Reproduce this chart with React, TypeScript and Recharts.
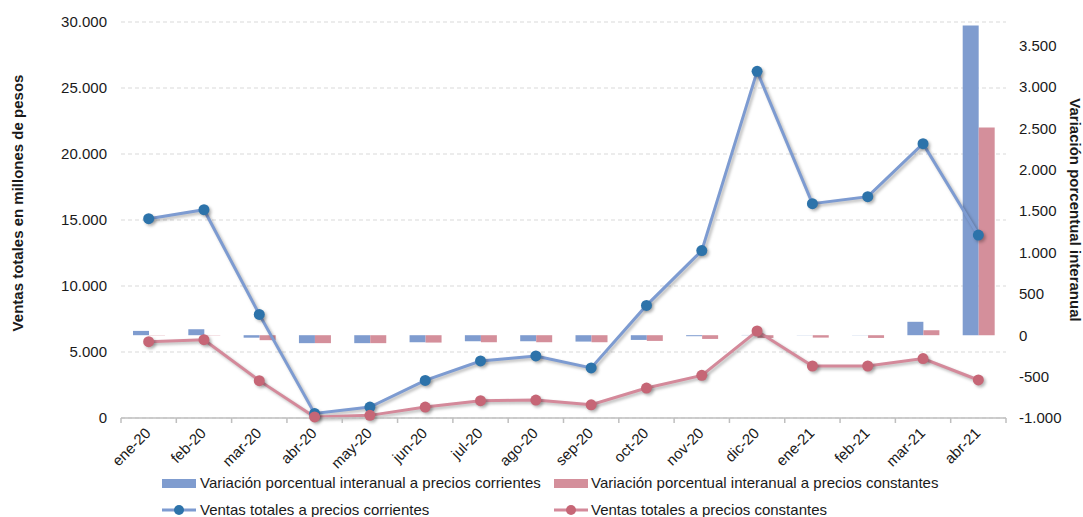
import {
  ComposedChart,
  Bar,
  Line,
  XAxis,
  YAxis,
  CartesianGrid,
  Legend,
} from 'recharts';

const categories = [
  'ene-20', 'feb-20', 'mar-20', 'abr-20', 'may-20', 'jun-20', 'jul-20', 'ago-20',
  'sep-20', 'oct-20', 'nov-20', 'dic-20', 'ene-21', 'feb-21', 'mar-21', 'abr-21',
];

// Ventas totales (millones de pesos), eje izquierdo
const ventasCorrientes = [
  15100, 15780, 7850, 350, 830, 2850, 4320, 4700, 3790, 8530, 12680, 26260, 16240, 16770, 20780, 13860,
];
const ventasConstantes = [
  5780, 5930, 2830, 80, 200, 830, 1310, 1360, 1000, 2270, 3230, 6590, 3940, 3940, 4500, 2880,
];

// Variación porcentual interanual, eje derecho
const varCorrientes = [52, 72, -30, -96, -96, -85, -73, -73, -77, -57, -12, 3, 2, 2, 162, 3742];
const varConstantes = [-3, -3, -60, -96, -96, -89, -85, -85, -85, -69, -45, -33, -29, -33, 60, 2510];

const leftTicks = [0, 5000, 10000, 15000, 20000, 25000, 30000];
const rightTicks = [-1000, -500, 0, 500, 1000, 1500, 2000, 2500, 3000, 3500];

const data = categories.map((cat, i) => ({
  cat,
  vc: ventasCorrientes[i],
  vk: ventasConstantes[i],
  pc: varCorrientes[i],
  pk: varConstantes[i],
}));

const W = 1083;
const H = 517;
const LEFT_W = 121;
const RIGHT_W = 77;
const BAND = (W - LEFT_W - RIGHT_W) / categories.length;
const FONT = '"Liberation Sans", Arial, sans-serif';
const TXT = '#1a1a1a';

const BLUE_BAR = '#7f9ccf';
const PINK_BAR = '#d48f9b';
const BLUE_LINE = '#7d9bd1';
const BLUE_DOT = '#2d73aa';
const PINK_LINE = '#d4899a';
const PINK_DOT = '#c66676';

const fmt = (v: number) => String(v).replace(/\B(?=(\d{3})+(?!\d))/g, '.');

function XTick({ x, y, payload, index }: any) {
  const half = BAND / 2;
  return (
    <g>
      <line x1={x - half} x2={x - half} y1={y} y2={y + 5} stroke="#bfbfbf" strokeWidth={1.5} />
      {index === categories.length - 1 && (
        <line x1={x + half} x2={x + half} y1={y} y2={y + 5} stroke="#bfbfbf" strokeWidth={1.5} />
      )}
      <text
        x={x + 3}
        y={y + 16}
        textAnchor="end"
        transform={`rotate(-45, ${x + 3}, ${y + 16})`}
        fontSize={15}
        fontFamily={FONT}
        fill={TXT}
      >
        {payload.value}
      </text>
    </g>
  );
}

function LegendContent() {
  const rowText = { position: 'absolute' as const, fontSize: 15, fontFamily: FONT, color: TXT, whiteSpace: 'nowrap' as const, lineHeight: '18px' };
  const rect = (left: number, top: number, color: string) => (
    <div style={{ position: 'absolute', left, top, width: 34, height: 9, background: color }} />
  );
  const lineIcon = (left: number, top: number, line: string, dot: string) => (
    <svg style={{ position: 'absolute', left, top }} width={34} height={12}>
      <line x1={0} x2={34} y1={6} y2={6} stroke={line} strokeWidth={3} />
      <circle cx={17} cy={6} r={5} fill={dot} />
    </svg>
  );
  return (
    <div style={{ position: 'relative', width: W, height: 47 }}>
      {rect(162, 9, BLUE_BAR)}
      <span style={{ ...rowText, left: 200, top: 4 }}>Variación porcentual interanual a precios corrientes</span>
      {rect(554, 9, PINK_BAR)}
      <span style={{ ...rowText, left: 591, top: 4 }}>Variación porcentual interanual a precios constantes</span>
      {lineIcon(162, 34, BLUE_LINE, BLUE_DOT)}
      <span style={{ ...rowText, left: 200, top: 31 }}>Ventas totales a precios corrientes</span>
      {lineIcon(554, 34, PINK_LINE, PINK_DOT)}
      <span style={{ ...rowText, left: 591, top: 31 }}>Ventas totales a precios constantes</span>
    </div>
  );
}

export default function App() {
  return (
    <div style={{ position: 'absolute', left: 0, top: 0, width: W, height: H, background: '#fff' }}>
      <style>{`
        .recharts-line-curve { filter: drop-shadow(2px 2px 1.5px rgba(0,0,0,0.28)); }
        .recharts-line-dots { filter: drop-shadow(2px 2px 1.5px rgba(0,0,0,0.28)); }
      `}</style>
      <ComposedChart
        width={W}
        height={H}
        data={data}
        margin={{ top: 22, right: 0, bottom: 39, left: 0 }}
        barCategoryGap="21.7%"
        barGap={0}
      >
        <CartesianGrid yAxisId="left" vertical={false} stroke="#d9d9d9" strokeDasharray="4 3" />
        <XAxis
          dataKey="cat"
          height={60}
          interval={0}
          tickSize={0}
          tickMargin={0}
          tickLine={false}
          axisLine={{ stroke: '#bfbfbf', strokeWidth: 1.5 }}
          tick={<XTick />}
        />
        <YAxis
          yAxisId="left"
          width={LEFT_W}
          domain={[0, 30000]}
          ticks={leftTicks}
          tickFormatter={fmt}
          axisLine={false}
          tickLine={false}
          tickSize={0}
          tickMargin={14}
          tick={{ fontSize: 15, fontFamily: FONT, fill: TXT }}
        />
        <YAxis
          yAxisId="right"
          orientation="right"
          width={RIGHT_W}
          domain={[-1000, 3783]}
          ticks={rightTicks}
          allowDataOverflow
          tickFormatter={fmt}
          axisLine={false}
          tickLine={false}
          tickSize={0}
          tickMargin={13}
          tick={{ fontSize: 15, fontFamily: FONT, fill: TXT, textAnchor: 'start' }}
        />
        <Bar yAxisId="right" dataKey="pc" fill={BLUE_BAR} isAnimationActive={false} />
        <Bar yAxisId="right" dataKey="pk" fill={PINK_BAR} isAnimationActive={false} />
        <Line
          yAxisId="left"
          type="linear"
          dataKey="vc"
          stroke={BLUE_LINE}
          strokeWidth={3}
          dot={{ r: 5.5, fill: BLUE_DOT, stroke: BLUE_DOT, strokeWidth: 0 }}
          activeDot={false}
          isAnimationActive={false}
        />
        <Line
          yAxisId="left"
          type="linear"
          dataKey="vk"
          stroke={PINK_LINE}
          strokeWidth={3}
          dot={{ r: 5.5, fill: PINK_DOT, stroke: PINK_DOT, strokeWidth: 0 }}
          activeDot={false}
          isAnimationActive={false}
        />
        <Legend
          verticalAlign="middle"
          align="center"
          wrapperStyle={{ top: 470, left: 0, width: W }}
          content={<LegendContent />}
        />
        <text
          x={17}
          y={203}
          transform="rotate(-90, 17, 203)"
          textAnchor="middle"
          dominantBaseline="central"
          fontSize={15}
          fontWeight="bold"
          fontFamily={FONT}
          fill={TXT}
        >
          Ventas totales en millones de pesos
        </text>
        <text
          x={1075}
          y={210}
          transform="rotate(90, 1075, 210)"
          textAnchor="middle"
          dominantBaseline="central"
          fontSize={15}
          fontWeight="bold"
          fontFamily={FONT}
          fill={TXT}
        >
          Variación porcentual interanual
        </text>
      </ComposedChart>
    </div>
  );
}
